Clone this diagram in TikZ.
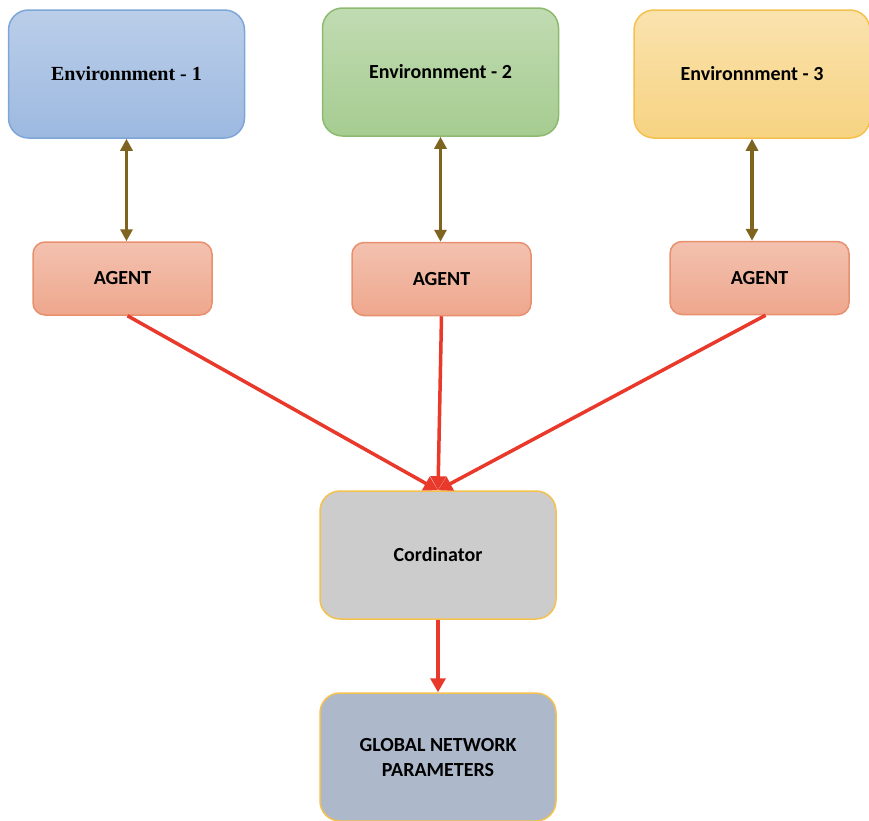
\documentclass[tikz,border=0pt]{standalone}
\usepackage{fontspec}
\setmainfont{Carlito}
\newfontfamily\timesfont{Liberation Serif}
\usetikzlibrary{arrows.meta,positioning}
\definecolor{envblue}{HTML}{9DB9E0}
\definecolor{envblueline}{HTML}{7EA6D8}
\definecolor{envgreen}{HTML}{A6CC91}
\definecolor{envgreenline}{HTML}{8DBA6F}
\definecolor{envyellow}{HTML}{F7D382}
\definecolor{envyellowline}{HTML}{F4C14D}
\definecolor{agentfill}{HTML}{EEA78D}
\definecolor{agentline}{HTML}{E8906E}
\definecolor{coordgray}{HTML}{CCCCCC}
\definecolor{globalfill}{HTML}{ADB9CA}
\definecolor{linkbrown}{HTML}{7F6320}
\definecolor{linkred}{HTML}{E8392B}

\begin{document}
\begin{tikzpicture}[
  x=1pt,y=-1pt,
  box/.style={draw,line width=1.5pt,rounded corners=20pt,align=center,
    font=\fontsize{20}{25}\selectfont\bfseries},
  env/.style={box,minimum width=236pt,minimum height=128pt},
  agent/.style={box,rounded corners=12pt,minimum width=179pt,minimum height=73pt,
    draw=agentline,top color=agentfill!70!white,bottom color=agentfill},
  mid/.style={box,minimum width=236pt,minimum height=128pt,draw=envyellowline},
  twoway/.style={{Triangle[length=12pt,width=12pt]}-{Triangle[length=12pt,width=12pt]},line width=3.5pt,linkbrown},
  feed/.style={-{Triangle[length=14pt,width=15pt]},line width=3.5pt,linkred}]

\useasboundingbox (0,0) rectangle (869,820);

% ---------- top row: the three environments ----------
\node[env,draw=envblueline,top color=envblue!70!white,bottom color=envblue] (env1) at (126.5,74)
  {\timesfont\bfseries Environnment - 1};
\node[env,draw=envgreenline,top color=envgreen!70!white,bottom color=envgreen] (env2) at (440.5,72)
  {Environnment - 2};
\node[env,draw=envyellowline,top color=envyellow!65!white,bottom color=envyellow] (env3) at (752,74)
  {Environnment - 3};

% ---------- middle row: one agent per environment ----------
\node[agent] (ag1) at (122.5,278.5) {AGENT};
\node[agent] (ag2) at (441.5,279) {AGENT};
\node[agent] (ag3) at (759.5,278) {AGENT};

\draw[twoway] (env1.south) -- (env1.south |- ag1.north);
\draw[twoway] (env2.south) -- (env2.south |- ag2.north);
\draw[twoway] (env3.south) -- (env3.south |- ag3.north);

% ---------- bottom: coordinator and global parameters ----------
\node[mid,fill=coordgray] (coord) at (438,555) {Cordinator};
\node[mid,fill=globalfill] (glob) at (438,757) {GLOBAL NETWORK\\PARAMETERS};

\draw[feed] ([xshift=5pt]ag1.south) -- (coord.north);
\draw[feed] (ag2.south) -- (coord.north);
\draw[feed] ([xshift=6pt]ag3.south) -- (coord.north);
\draw[feed] (coord.south) -- (glob.north);
\end{tikzpicture}
\end{document}
